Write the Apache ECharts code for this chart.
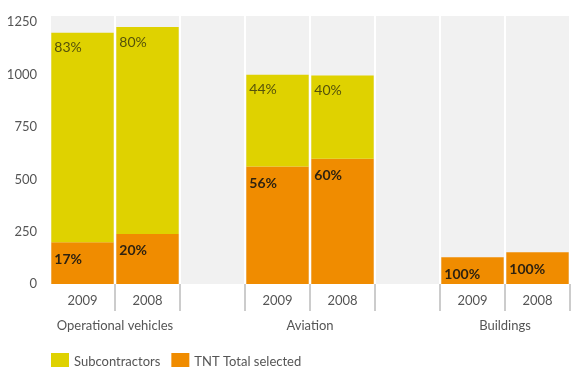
<!DOCTYPE html>
<html>
<head>
<meta charset="utf-8">
<script src="https://cdn.jsdelivr.net/npm/echarts@6/dist/echarts.min.js"></script>
<style>html,body{margin:0;padding:0;background:#fff;}#c{width:573px;height:367px;}</style>
</head>
<body>
<div id="c"></div>
<script>
var categories = ['2009', '2008', '', '2009', '2008', '', '2009', '2008'];
var groupNames = ['Operational vehicles', 'Aviation', 'Buildings'];
var groupPositions = [1, 4, 7];
var tntValues = [199, 239, null, 561, 598, null, 128, 152];
var subValues = [1001, 988, null, 438, 398, null, null, null];
var tntPct = ['17%', '20%', '', '56%', '60%', '', '100%', '100%'];
var subPct = ['83%', '80%', '', '44%', '40%', '', '', ''];
var yTicks = [0, 250, 500, 750, 1000, 1250];

var FONT = 'Lato, "Open Sans", sans-serif';
var chart = echarts.init(document.getElementById('c'));
chart.setOption({
  animation: false,
  grid: {left: 50, right: -1, top: 16, bottom: 83, show: true, backgroundColor: '#f1f1f1', borderWidth: 0},
  legend: {
    data: ['Subcontractors', 'TNT Total selected'],
    left: 46, top: 348, itemWidth: 18, itemHeight: 18, itemGap: 11, icon: 'rect',
    textStyle: {fontFamily: FONT, fontSize: 13, color: '#555', padding: [3, 0, 0, 0]}
  },
  xAxis: [{
    type: 'category', data: categories,
    axisLine: {show: false},
    axisTick: {show: true, length: 27, lineStyle: {color: '#cccccc', width: 2},
      interval: function (i) { return i > 0; }},
    axisLabel: {fontFamily: FONT, fontSize: 13, color: '#555', margin: 10},
    splitLine: {show: true, lineStyle: {color: '#ffffff', width: 2}}
  }, {
    type: 'value', position: 'bottom', min: 0, max: 8, interval: 1,
    axisLine: {show: false}, axisTick: {show: false}, splitLine: {show: false},
    axisLabel: {fontFamily: FONT, fontSize: 13, color: '#555', margin: 35,
      formatter: function (v) { var k = groupPositions.indexOf(v); return k >= 0 ? groupNames[k] : ''; }}
  }],
  yAxis: {
    type: 'value', min: 0, max: 1280, interval: 250,
    axisLine: {show: false}, axisTick: {show: false}, splitLine: {show: false},
    axisLabel: {fontFamily: FONT, fontSize: 13, color: '#555', margin: 13, showMaxLabel: false,
      formatter: function (v) { return yTicks.indexOf(v) >= 0 ? String(v) : ''; }}
  },
  series: [{
    name: 'TNT Total selected', type: 'bar', stack: 's', data: tntValues,
    barCategoryGap: '4%',
    itemStyle: {color: '#f08c00'},
    label: {show: true, position: [3, 10], fontFamily: FONT, fontSize: 14, fontWeight: 'bold', color: '#2e2210',
      formatter: function (p) { return tntPct[p.dataIndex]; }}
  }, {
    name: 'Subcontractors', type: 'bar', stack: 's', data: subValues,
    barCategoryGap: '4%',
    itemStyle: {color: '#dfd200'},
    label: {show: true, position: [3, 8], fontFamily: FONT, fontSize: 14, color: '#55520a',
      formatter: function (p) { return subPct[p.dataIndex]; }}
  }]
});
</script>
</body>
</html>
